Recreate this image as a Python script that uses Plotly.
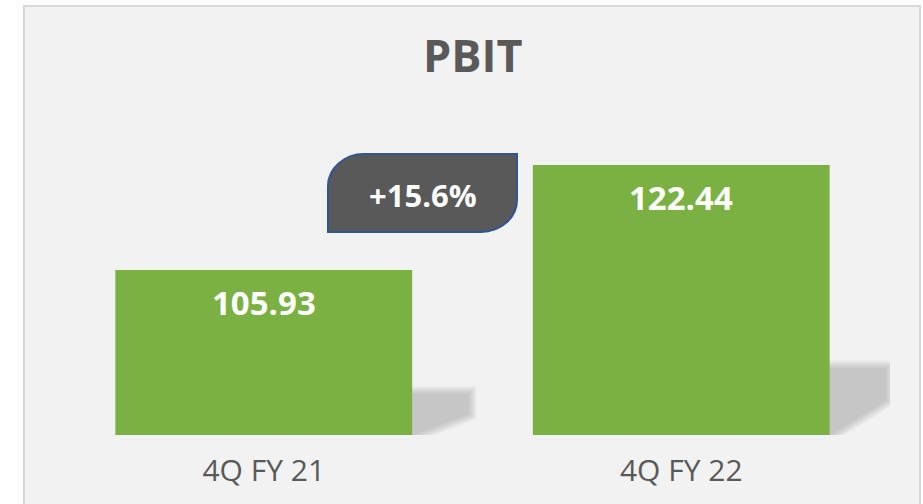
import plotly.graph_objects as go

categories = ["4Q FY 21", "4Q FY 22"]
values = [105.93, 122.44]
value_labels = ["105.93", "122.44"]
growth_label = "+15.6%"
title_text = "PBIT"

W, H = 923, 504
ML, MR, MT, MB = 55, 33, 85, 69
YMIN, YMAX = 80, 135
BARGAP = 0.289
GREEN = "#7AB142"
GRAY_TXT = "#595959"
FONT = "Open Sans"

PW = W - ML - MR
PH = H - MT - MB


def px_to_x(px):
    return (px - ML) / PW * 2 - 0.5


def py_to_y(py):
    return YMIN + (H - MB - py) / PH * (YMAX - YMIN)


fig = go.Figure()
fig.add_trace(go.Bar(x=[0, 1], y=values, marker=dict(color=GREEN, line=dict(width=0)),
                     hoverinfo="skip"))

shapes = []
# card background
shapes.append(dict(type="rect", xref="paper", yref="paper", layer="below",
                   x0=(24 - ML) / PW, x1=(920 - ML) / PW,
                   y0=(H - MB - 515) / PH, y1=(H - MB - 6) / PH,
                   fillcolor="#F2F2F2", line=dict(color="#D9D9D9", width=2)))

# bar shadows (derived from bar values)
half = (1 - BARGAP) / 2
sw = 56 / PW * 2
for i, v in enumerate(values):
    xl = i + half
    xr = xl + sw
    top = YMIN + 0.245 * (v - YMIN)
    mid = YMIN + 0.13 * (v - YMIN)
    path = f"M {xl},{top} L {xr},{top} L {xr},{mid} L {xl},{YMIN} Z"
    for w in [16, 13, 10, 7, 4, 1]:
        shapes.append(dict(type="path", path=path, xref="x", yref="y", layer="below",
                           fillcolor="#8A8A8A", opacity=0.08,
                           line=dict(color="#8A8A8A", width=w)))

# growth badge
bx0, bx1, by0, by1 = 328, 517, 154, 232
rx, ry = 36, 32
k = 0.55
pts = [
    ("M", [(bx0, by0 + ry)]),
    ("C", [(bx0, by0 + ry * (1 - k)), (bx0 + rx * (1 - k), by0), (bx0 + rx, by0)]),
    ("L", [(bx1, by0)]),
    ("L", [(bx1, by1 - ry)]),
    ("C", [(bx1, by1 - ry * (1 - k)), (bx1 - rx * (1 - k), by1), (bx1 - rx, by1)]),
    ("L", [(bx0, by1)]),
]
segs = []
for cmd, pl in pts:
    segs.append(cmd + " " + " ".join(f"{px_to_x(a):.5f},{py_to_y(b):.5f}" for a, b in pl))
badge_path = " ".join(segs) + " Z"
shapes.append(dict(type="path", path=badge_path, xref="x", yref="y", layer="above",
                   fillcolor="#595959", line=dict(color="#2F5597", width=2)))

annotations = []
for i, (v, t) in enumerate(zip(values, value_labels)):
    annotations.append(dict(x=i, y=v, xref="x", yref="y", text=f"<b>{t}</b>",
                            showarrow=False, yanchor="middle", yshift=-33,
                            font=dict(family=FONT, size=33, color="white")))
annotations.append(dict(x=px_to_x((bx0 + bx1) / 2), y=py_to_y(195), xref="x", yref="y",
                        text=f"<b>{growth_label}</b>", showarrow=False, yanchor="middle",
                        font=dict(family=FONT, size=31, color="white")))
annotations.append(dict(x=(472 - ML) / PW, y=(H - MB - 54) / PH, xref="paper", yref="paper",
                        text=f"<b>{title_text}</b>", showarrow=False, yanchor="middle",
                        xanchor="center",
                        font=dict(family=FONT, size=45, color=GRAY_TXT)))

fig.update_layout(
    width=W, height=H,
    margin=dict(l=ML, r=MR, t=MT, b=MB, pad=0),
    paper_bgcolor="white", plot_bgcolor="rgba(0,0,0,0)",
    bargap=BARGAP, showlegend=False,
    shapes=shapes, annotations=annotations,
    xaxis=dict(range=[-0.5, 1.5], tickmode="array", tickvals=[0, 1], ticktext=categories,
               showgrid=False, zeroline=False, showline=False, ticks="",
               ticklabelstandoff=15,
               tickfont=dict(family=FONT, size=30, color=GRAY_TXT), fixedrange=True),
    yaxis=dict(range=[YMIN, YMAX], showgrid=False, zeroline=False, showline=False,
               showticklabels=False, ticks="", fixedrange=True),
)

fig.write_html("out.html", config={"displayModeBar": False, "staticPlot": True},
               post_script="document.body.style.margin='0px';document.body.style.overflow='hidden';")
